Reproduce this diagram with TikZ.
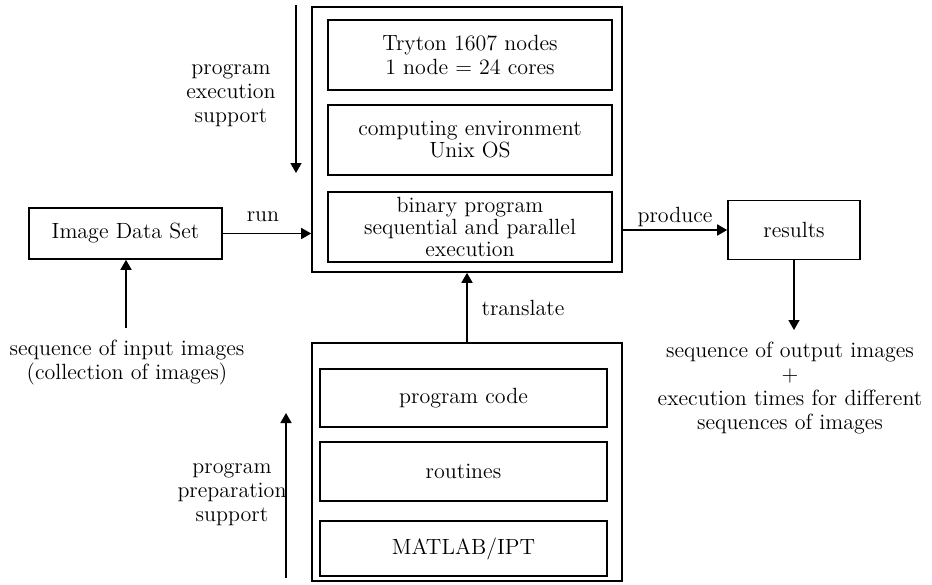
\documentclass[tikz,border=0pt]{standalone}
\usetikzlibrary{arrows.meta}
\begin{document}
\begin{tikzpicture}[x=0.5pt,y=-0.5pt,
  every node/.style={font=\fontsize{11}{12}\selectfont},
  box/.style={draw,line width=0.8pt,inner sep=0pt,align=center},
  ibox/.style={box,font=\fontsize{11}{11}\selectfont},
  lbl/.style={align=center,inner sep=0pt},
  arr/.style={line width=0.8pt,-{Triangle[length=5pt,width=5.5pt]}}]
\useasboundingbox (0,0) rectangle (932,584);
% top block
\node[box,minimum width=155pt,minimum height=132.5pt] (top) at (467,139.5) {};
\node[ibox,minimum width=142pt,minimum height=35pt,font=\fontsize{11}{12}\selectfont] (tryton) at (470,55) {Tryton 1607 nodes\\1 node = 24 cores};
\node[ibox,minimum width=142pt,minimum height=35pt] (env) at (470,140) {computing environment\\Unix OS};
\node[ibox,minimum width=142pt,minimum height=35pt] (bin) at (470,227) {binary program\\sequential and parallel\\execution};
% bottom block
\node[box,minimum width=155pt,minimum height=119pt] (bot) at (467,462) {};
\node[ibox,minimum width=143.5pt,minimum height=29pt] (code) at (463.5,398) {program code};
\node[ibox,minimum width=143.5pt,minimum height=29.5pt] (rout) at (463.5,471.5) {routines};
\node[ibox,minimum width=143.5pt,minimum height=27.5pt] (mat) at (463.5,548.5) {MATLAB/IPT};
% side boxes
\node[box,minimum width=96.5pt,minimum height=25.5pt] (ids) at (125.5,233.5) {Image Data Set};
\node[box,minimum width=66pt,minimum height=29.5pt] (res) at (794,230) {results};
% labels
\node[lbl] (runl) at (263,217) {run};
\node[lbl] (prodl) at (675,217) {produce};
\node[lbl] (transl) at (523,308) {translate};
\node[lbl] (exsup) at (231,96) {program\\execution\\support};
\node[lbl] (prsup) at (232,495) {program\\preparation\\support};
\node[lbl] (inp) at (127,363) {sequence of input images\\(collection of images)};
\node[lbl] (outp) at (790,388) {sequence of output images\\+\\execution times for different\\sequences of images};
% coordinates
\coordinate (extop) at (296,5);
\coordinate (exbot) at (296,173);
\coordinate (prbot) at (286,578);
\coordinate (prtop) at (286,413);
\coordinate (inpc) at (126,328);
\coordinate (outc) at (794,330);
% arrows
\draw[arr] (ids.east) -- (ids.east -| top.west);
\draw[arr] (top.east |- res.west) -- (res.west);
\draw[arr] (bot.north) -- (bot.north |- top.south);
\draw[arr] (inpc) -- (inpc |- ids.south);
\draw[arr] (res.south) -- (outc);
\draw[arr] (extop) -- (exbot);
\draw[arr] (prbot) -- (prtop);
\end{tikzpicture}
\end{document}
